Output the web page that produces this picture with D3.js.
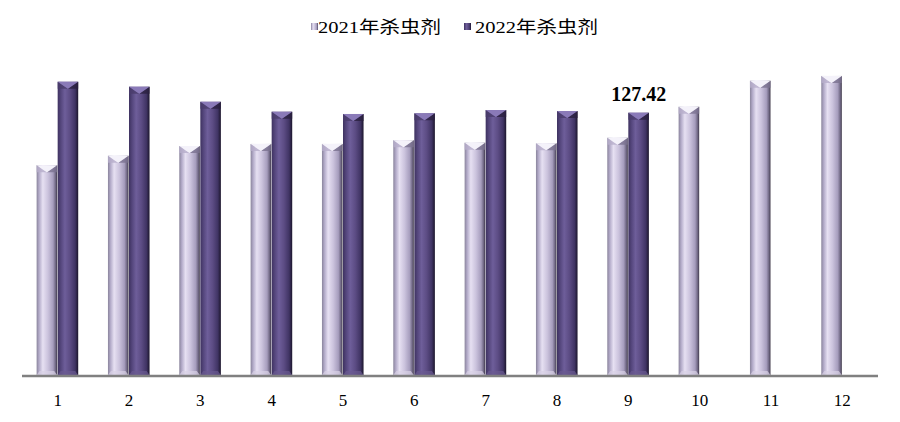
<!DOCTYPE html>
<html><head><meta charset="utf-8">
<script src="https://cdn.jsdelivr.net/npm/d3@7"></script>
<style>body{margin:0;background:#fff}svg{display:block}</style>
</head><body>
<svg id="c" width="900" height="422"></svg>
<script>
const months = ["1","2","3","4","5","6","7","8","9","10","11","12"];
const seriesNames = ["2021年杀虫剂","2022年杀虫剂"];
const values2021 = [102.0,106.6,111.3,112.3,112.3,114.1,112.9,112.6,115.3,130.3,142.9,145.2];
const values2022 = [142.4,140.0,132.7,127.9,126.8,127.1,128.7,128.2,127.42,null,null,null];
const labelMonth = "9";
const labelText = "127.42";

const SERIF = '"Liberation Serif"';
const svg = d3.select("#c");
const defs = svg.append("defs");
const grads = [
  {id:"g21", stops:[[0,"#8a849c"],[0.12,"#b2aac8"],[0.3,"#e6e0f2"],[0.55,"#cbc3dd"],[0.8,"#a69dbd"],[0.93,"#6c6480"],[1,"#3e3848"]]},
  {id:"g22", stops:[[0,"#3e3260"],[0.15,"#54467c"],[0.35,"#6e5e9a"],[0.6,"#5c4c84"],[0.85,"#403464"],[1,"#1c162c"]]}
];
grads.forEach(g=>{
  const lg = defs.append("linearGradient").attr("id",g.id).attr("x1","0").attr("x2","1").attr("y1","0").attr("y2","0");
  g.stops.forEach(s=>lg.append("stop").attr("offset",s[0]).attr("stop-color",s[1]));
});
const capLight = ["#f4f2fa","#8a7ab8"];
const capSide = ["#b6aecb","#4a3c6c"];

const x0 = d3.scaleBand().domain(months).range([22,878]).paddingInner(0.41).paddingOuter(0.205);
const x1 = d3.scaleBand().domain([0,1]).range([0,x0.bandwidth()]).padding(0);
const y = d3.scaleLinear().domain([0,150]).range([376,376-150*2.0664]);

const data = [];
months.forEach((m,i)=>{
  [values2021[i],values2022[i]].forEach((v,s)=>{ if(v!=null) data.push({m,s,v}); });
});

const yB = 375;
const g = svg.append("g");
data.forEach(d=>{
  const x = x0(d.m)+x1(d.s), w = x1.bandwidth()-0.5, yT = y(d.v), h = 7;
  const b = g.append("g");
  b.append("rect").attr("x",x).attr("y",yT).attr("width",w).attr("height",yB-yT).attr("fill",`url(#${d.s?"g22":"g21"})`);
  b.append("path").attr("d",`M${x},${yT}L${x+w/2},${yT+h}L${x},${yT+h}Z`).attr("fill",capSide[d.s]).attr("opacity",0.8);
  b.append("path").attr("d",`M${x+w},${yT}L${x+w},${yT+h}L${x+w/2},${yT+h}Z`).attr("fill",d.s?"#2a2040":"#7a7290").attr("opacity",0.8);
  b.append("path").attr("d",`M${x},${yT}L${x+w},${yT}L${x+w/2},${yT+h}Z`).attr("fill",capLight[d.s]);
  b.append("path").attr("d",`M${x},${yB}L${x+w},${yB}L${x+w-3},${yB-4}L${x+3},${yB-4}Z`).attr("fill",d.s?"#6a5a90":"#d8d2e6").attr("opacity",0.7);
});

// axis
const ax = svg.append("g").attr("transform","translate(0,376)")
  .call(d3.axisBottom(x0).tickSize(0).tickPadding(0));
ax.select(".domain").attr("stroke","#808080").attr("stroke-width",2.5).attr("d","M22,0H878");
ax.selectAll("text").style("font-family",SERIF).style("font-size","17px").attr("fill","#000").attr("dy",null).attr("y",30);

// data label
svg.append("text").attr("x",x0(labelMonth)+x1(1)+x1.bandwidth()/2).attr("y",101)
  .attr("text-anchor","middle").style("font-family",SERIF).style("font-weight","bold").style("font-size","20px").attr("fill","#000").text(labelText);

// legend
const leg = [{x:311,tx:318},{x:464,tx:475}];
seriesNames.forEach((n,s)=>{
  svg.append("rect").attr("x",leg[s].x).attr("y",23).attr("width",7).attr("height",7).attr("fill",`url(#${s?"g22":"g21"})`);
  svg.append("text").attr("x",leg[s].tx).attr("y",33).style("font-family",'"Liberation Serif","Noto Sans CJK SC"')
    .style("font-size","17px").attr("fill","#000").attr("textLength",123).attr("lengthAdjust","spacingAndGlyphs").text(n);
});
</script>
</body></html>
